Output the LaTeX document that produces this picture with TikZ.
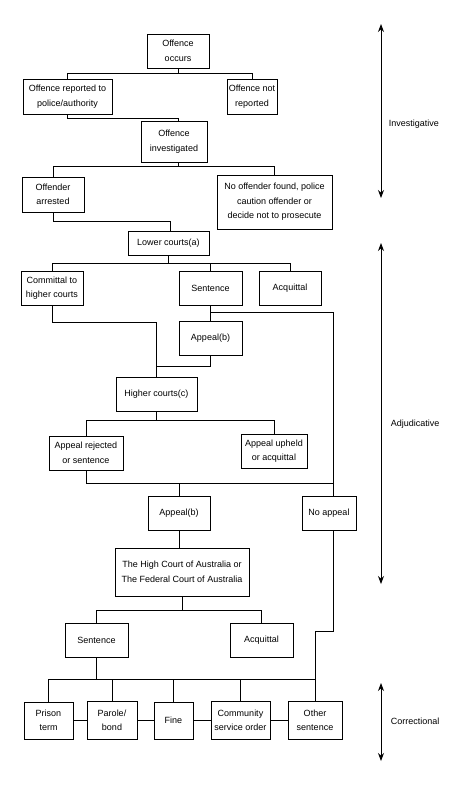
\documentclass[tikz,border=0pt]{standalone}
\usepackage{fontspec}
\setmainfont{Liberation Sans}
\usetikzlibrary{arrows.meta}
\begin{document}
\begin{tikzpicture}[x=1pt,y=-1pt,line width=0.9pt,
  box/.style={draw,inner sep=0pt,align=center,font=\fontsize{9}{14.5}\selectfont},
  phase/.style={anchor=west,font=\fontsize{9}{11}\selectfont},
  span/.style={{Stealth[length=8pt,width=6pt]}-{Stealth[length=8pt,width=6pt]}}]
\useasboundingbox (0,0) rectangle (463,793);
% boxes
\node[box,minimum width=62pt,minimum height=34pt] (occ) at (178,51) {Offence\\occurs};
\node[box,minimum width=89pt,minimum height=35pt] (rep) at (67.5,96.5) {Offence reported to\\police/authority};
\node[box,minimum width=50pt,minimum height=35pt] (nrep) at (252,96.5) {Offence not\\reported};
\node[box,minimum width=66pt,minimum height=41pt] (inv) at (174,141.5) {Offence\\investigated};
\node[box,minimum width=62pt,minimum height=35pt] (arr) at (53,194.5) {Offender\\arrested};
\node[box,minimum width=115pt,minimum height=54pt] (noff) at (274.5,202) {No offender found, police\\caution offender or\\decide not to prosecute};
\node[box,minimum width=81pt,minimum height=24pt] (low) at (168.5,243) {Lower courts(a)};
\node[box,minimum width=62pt,minimum height=34pt] (com) at (52,288) {Committal to\\higher courts};
\node[box,minimum width=63pt,minimum height=34pt] (sen) at (210.5,288) {Sentence};
\node[box,minimum width=62pt,minimum height=34pt] (acq) at (290,288) {Acquittal};
\node[box,minimum width=63pt,minimum height=34pt] (app1) at (210.5,338) {Appeal(b)};
\node[box,minimum width=81pt,minimum height=34pt] (high) at (156.5,394) {Higher courts(c)};
\node[box,minimum width=74pt,minimum height=34pt] (rej) at (86,453) {Appeal rejected\\or sentence};
\node[box,minimum width=66pt,minimum height=34pt] (uph) at (274,451) {Appeal upheld\\or acquittal};
\node[box,minimum width=62pt,minimum height=34pt] (app2) at (179,513) {Appeal(b)};
\node[box,minimum width=54pt,minimum height=34pt] (noap) at (329,513) {No appeal};
\node[box,minimum width=134pt,minimum height=48pt] (hc) at (182,572) {The High Court of Australia or\\The Federal Court of Australia};
\node[box,minimum width=63pt,minimum height=34pt] (sen2) at (96.5,640) {Sentence};
\node[box,minimum width=63pt,minimum height=34pt] (acq2) at (261.5,640) {Acquittal};
\node[box,minimum width=49pt,minimum height=37pt] (pri) at (48.5,720.5) {Prison\\term};
\node[box,minimum width=50pt,minimum height=38pt] (par) at (112,720.5) {Parole/\\bond};
\node[box,minimum width=39pt,minimum height=37pt] (fine) at (173.5,720.5) {Fine};
\node[box,minimum width=59pt,minimum height=38pt] (cso) at (240.5,720.5) {Community\\service order};
\node[box,minimum width=54pt,minimum height=38pt] (oth) at (315,720.5) {Other\\sentence};
% connectors
\draw (occ.south) -- ++(0,5.3) coordinate (j1);
\draw (rep.north) |- (j1) -| (nrep.north);
\draw (rep.south) -- ++(0,4.3) -| ([xshift=4pt]inv.north);
\draw ([xshift=4pt]inv.south) -- ++(0,3.7) coordinate (j3);
\draw (arr.north) |- (j3) -| (noff.north);
\draw (arr.south) -- ++(0,9) -| ([xshift=1.5pt]low.north);
\draw (low.south) -- ++(0,8.3) coordinate (j5);
\draw (com.north) |- (j5) -| (acq.north);
\draw (sen.north) -- (sen.north |- j5);
\draw (sen.south) -- (app1.north);
\coordinate (nx) at ([xshift=4.3pt]noap.north);
\path (sen.south) ++(0,7.3) coordinate (j6);
\draw (j6) -| (nx);
\draw (com.south) -- ++(0,17.3) -| (high.north);
\draw (app1.south) -- ++(0,11.3) -| (high.north);
\draw (high.south) -- ++(0,9.3) coordinate (j8);
\draw (rej.north) |- (j8) -| (uph.north);
\path (rej.south) ++(0,13.3) coordinate (j7);
\draw (rej.south) -- (j7) -- (j7 -| nx);
\draw (app2.north) -- (app2.north |- j7);
\draw (app2.south) -- (app2.south |- hc.north);
\draw (hc.south) -- ++(0,14.3) coordinate (j9);
\draw (sen2.north) |- (j9) -| (acq2.north);
\draw ([xshift=4.3pt]noap.south) -- ++(0,101.3) -| (oth.north);
\draw (sen2.south) -- ++(0,22.3) coordinate (j10);
\draw (pri.north) |- (j10) -| (oth.north);
\foreach \n in {par,fine,cso} \draw (\n.north) -- (\n.north |- j10);
\draw (pri.east) -- (par.west);
\draw (par.east) -- (fine.west);
\draw (fine.east) -- (cso.west);
\draw (cso.east) -- (oth.west);
% phases
\coordinate (i1) at (381,24); \coordinate (i2) at (381,198);
\coordinate (a1) at (381,243); \coordinate (a2) at (381,584);
\coordinate (c1) at (381,683); \coordinate (c2) at (381,761);
\draw[span] (i1) -- (i2);
\draw[span] (a1) -- (a2);
\draw[span] (c1) -- (c2);
\node[phase] (li) at (385,124) {Investigative};
\node[phase] (la) at (387,424) {Adjudicative};
\node[phase] (lc) at (387,721.5) {Correctional};
\end{tikzpicture}
\end{document}
